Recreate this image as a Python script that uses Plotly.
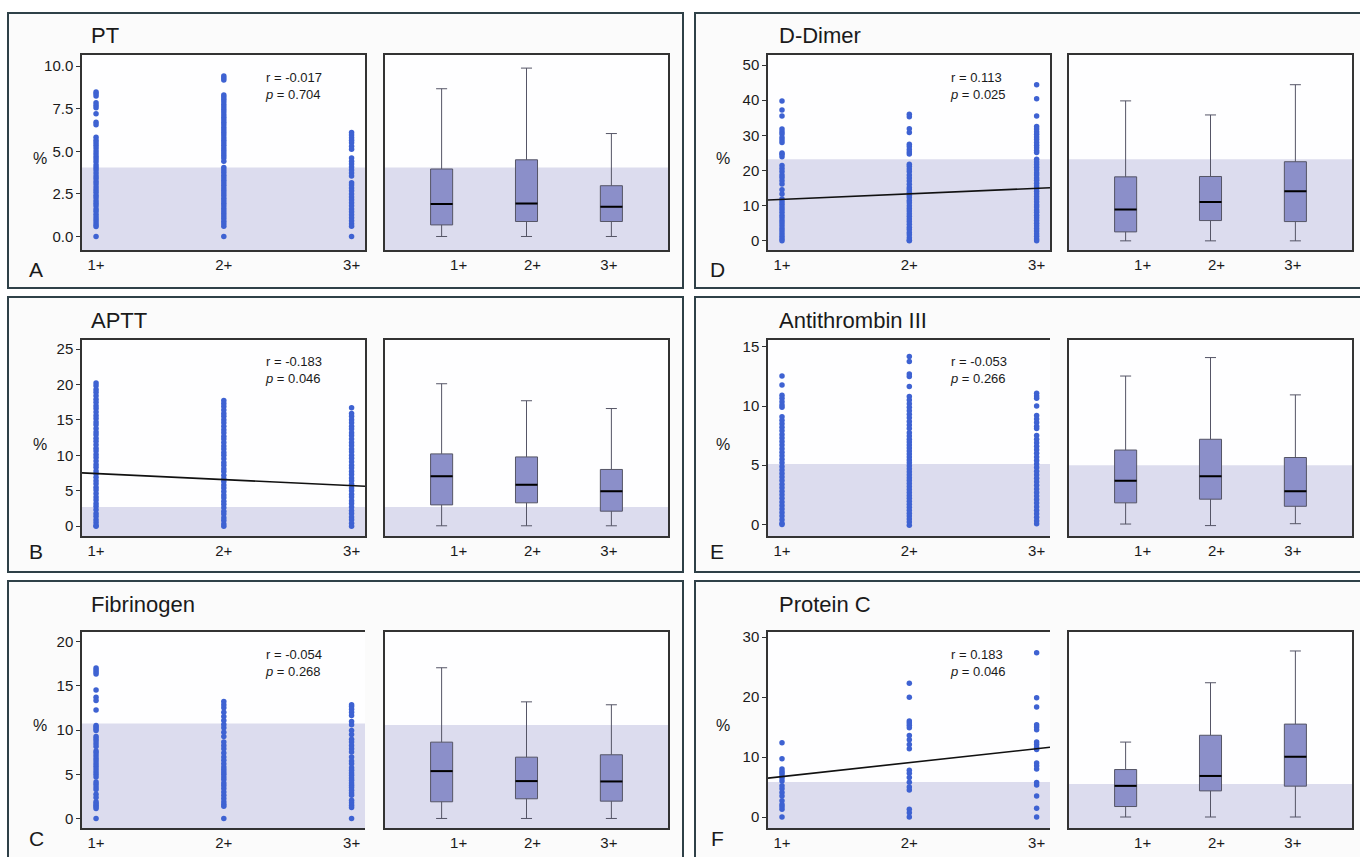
import plotly.graph_objects as go

W, H = 1360, 857
FONT = "Liberation Sans, Arial, sans-serif"

# ---------------- data ----------------
categories = ["1+", "2+", "3+"]
panel_letters = ["A", "B", "C", "D", "E", "F"]
panel_titles = ["PT", "APTT", "Fibrinogen", "D-Dimer", "Antithrombin III", "Protein C"]
r_values = ["-0.017", "-0.183", "-0.054", "0.113", "-0.053", "0.183"]
p_values = ["0.704", "0.046", "0.268", "0.025", "0.266", "0.046"]

# individual values (%), per group 1+, 2+, 3+
pt_g1 = [8.48, 8.38, 8.25, 7.85, 7.7, 7.55, 7.2, 6.7, 6.55, 5.82, 5.65, 5.5, 5.35, 5.2, 5.02, 4.85, 4.7, 4.55,
         4.38, 4.2, 4.05, 3.9, 3.72, 3.55, 3.4, 3.22, 3.08, 2.9, 2.75, 2.6, 2.42, 2.28, 2.1, 1.95, 1.8, 1.62,
         1.48, 1.3, 1.15, 1.0, 0.85, 0.7, 0.58, 0.0]
pt_g2 = [9.42, 9.3, 9.18, 8.3, 8.18, 8.05, 7.9, 7.75, 7.6, 7.45, 7.3, 7.15, 7.0, 6.85, 6.7, 6.55, 6.4, 6.25,
         6.1, 5.95, 5.8, 5.65, 5.5, 5.35, 5.2, 5.05, 4.9, 4.75, 4.6, 4.42, 4.05, 3.9, 3.75, 3.6, 3.45, 3.3,
         3.15, 3.0, 2.85, 2.7, 2.55, 2.4, 2.25, 2.1, 1.95, 1.8, 1.65, 1.5, 1.35, 1.2, 1.05, 0.9, 0.75, 0.6, 0.0]
pt_g3 = [6.1, 5.95, 5.8, 5.65, 5.5, 5.3, 5.12, 4.6, 4.42, 4.25, 4.08, 3.9, 3.72, 3.55, 3.15, 3.02, 2.85,
         2.68, 2.5, 2.32, 2.15, 1.98, 1.8, 1.62, 1.45, 1.28, 1.1, 0.92, 0.75, 0.6, 0.0]

aptt_g1 = [20.2, 19.8, 19.3, 18.9, 18.4, 17.9, 17.5, 17.0, 16.6, 16.1, 15.6, 15.2, 14.7, 14.3, 13.8, 13.3,
           12.9, 12.4, 12.0, 11.5, 11.0, 10.6, 10.1, 9.7, 9.2, 8.7, 8.3, 7.8, 7.4, 6.9, 6.4, 6.0, 5.5, 5.1,
           4.6, 4.1, 3.7, 3.2, 2.8, 2.3, 1.8, 1.4, 0.9, 0.5, 0.1, 0.0]
aptt_g2 = [17.75, 17.3, 16.9, 16.4, 15.9, 15.5, 15.0, 14.6, 14.1, 13.6, 13.2, 12.7, 12.3, 11.8, 11.3, 10.9,
           10.4, 10.0, 9.5, 9.0, 8.6, 8.1, 7.7, 7.2, 6.7, 6.3, 5.8, 5.4, 4.9, 4.4, 4.0, 3.5, 3.1, 2.6, 2.1,
           1.7, 1.2, 0.8, 0.3, 0.0]
aptt_g3 = [16.7, 15.9, 15.5, 15.0, 14.6, 14.1, 13.7, 13.2, 12.8, 12.3, 11.8, 11.4, 10.9, 10.5, 10.0, 9.6,
           9.1, 8.6, 8.2, 7.7, 7.3, 6.8, 6.4, 5.9, 5.4, 5.0, 4.5, 4.1, 3.6, 3.2, 2.7, 2.2, 1.8, 1.3, 0.9,
           0.4, 0.0]

fib_g1 = [17.03, 16.8, 16.58, 16.35, 14.55, 13.72, 13.35, 12.29, 10.53, 10.34, 10.15, 9.96, 9.29, 9.02, 8.76,
          8.46, 8.16, 7.63, 7.41, 7.11, 6.8, 6.5, 6.2, 5.9, 5.6, 5.3, 5.0, 4.7, 4.14, 3.87, 3.57, 3.27, 2.74,
          2.37, 1.88, 1.69, 1.5, 1.32, 1.13, 0.0]
fib_g2 = [13.23, 12.86, 12.52, 12.03, 11.54, 11.09, 10.64, 10.26, 9.77, 9.29, 8.65, 8.27, 7.89, 7.41, 6.95,
          6.58, 6.2, 5.83, 5.53, 5.26, 5.0, 4.7, 4.4, 4.02, 3.72, 3.38, 3.01, 2.63, 2.26, 1.88, 1.62, 1.39, 0.0]
fib_g3 = [12.86, 12.67, 12.37, 12.03, 11.65, 10.98, 10.6, 9.96, 9.51, 8.98, 8.65, 8.27, 7.89, 7.52, 6.95, 6.5,
          6.2, 5.75, 5.45, 5.15, 4.89, 4.59, 4.32, 4.02, 3.76, 3.5, 3.2, 2.89, 2.63, 2.07, 1.77, 1.5, 1.24, 0.0]

dd_g1 = [39.8, 37.2, 35.5, 31.8, 31.0, 30.4, 29.4, 28.7, 28.0, 25.0, 24.6, 23.9, 21.4, 20.6, 19.7, 18.7, 18.0,
         17.1, 16.2, 14.5, 13.3, 11.9, 11.1, 10.4, 9.6, 8.9, 8.1, 7.3, 6.6, 5.8, 5.1, 4.3, 3.5, 2.8, 2.0,
         1.3, 0.6, 0.0]
dd_g2 = [36.0, 35.3, 31.9, 30.8, 27.5, 26.8, 26.0, 25.3, 24.7, 21.8, 21.2, 20.4, 19.7, 18.7, 17.9, 17.0, 16.1,
         15.2, 14.6, 13.8, 13.0, 12.3, 11.5, 10.8, 10.0, 9.2, 8.5, 7.7, 7.0, 6.2, 5.5, 4.7, 3.9, 3.2, 2.4,
         1.7, 0.9, 0.2, 0.0]
dd_g3 = [44.4, 40.4, 35.5, 32.5, 31.8, 31.0, 30.3, 29.5, 28.8, 28.0, 27.2, 26.5, 25.7, 25.1, 23.2, 22.4, 21.7,
         20.9, 20.2, 19.4, 18.7, 17.9, 17.2, 16.4, 15.6, 14.9, 14.1, 13.4, 12.6, 11.9, 11.1, 10.3, 9.6, 8.8,
         8.1, 7.3, 6.6, 5.8, 5.0, 4.3, 3.5, 2.8, 2.0, 1.3, 0.5, 0.0]

at_g1 = [12.54, 11.78, 10.9, 10.65, 10.37, 10.08, 9.89, 9.1, 8.8, 8.5, 8.2, 7.9, 7.6, 7.3, 7.0, 6.7, 6.4, 6.1,
         5.8, 5.5, 5.2, 4.9, 4.6, 4.3, 4.0, 3.7, 3.4, 3.1, 2.8, 2.5, 2.2, 1.9, 1.6, 1.3, 1.0, 0.7, 0.4, 0.1, 0.0]
at_g2 = [14.18, 13.76, 12.7, 12.5, 11.64, 10.8, 10.5, 10.2, 9.9, 9.6, 9.3, 9.0, 8.7, 8.4, 8.1, 7.75, 7.46,
         7.2, 6.95, 6.7, 6.45, 6.2, 5.95, 5.7, 5.45, 5.2, 4.95, 4.7, 4.45, 4.2, 3.95, 3.7, 3.45, 3.2, 2.95,
         2.7, 2.45, 2.2, 1.95, 1.7, 1.45, 1.2, 0.95, 0.7, 0.45, 0.2, -0.08]
at_g3 = [11.07, 10.85, 10.65, 10.0, 9.2, 8.9, 8.6, 8.3, 8.1, 7.5, 7.2, 6.9, 6.6, 6.3, 6.0, 5.7, 5.4, 5.1, 4.8,
         4.5, 4.2, 3.9, 3.6, 3.3, 3.0, 2.7, 2.4, 2.1, 1.8, 1.5, 1.2, 0.9, 0.6, 0.3, 0.05]

pc_g1 = [12.4, 9.7, 8.0, 7.6, 7.3, 6.9, 6.5, 6.0, 5.2, 4.7, 4.1, 3.5, 2.7, 2.1, 1.7, 1.3, 0.0]
pc_g2 = [22.3, 20.0, 16.0, 15.7, 15.3, 14.9, 13.6, 12.9, 12.1, 11.4, 7.8, 7.3, 6.6, 5.8, 5.0, 4.5, 1.3, 0.7, 0.0]
pc_g3 = [27.4, 19.9, 18.35, 15.4, 15.0, 14.55, 12.5, 12.1, 11.6, 11.25, 9.0, 8.55, 8.0, 5.75, 5.35, 3.5, 1.45, 0.0]

points = [
    [pt_g1, pt_g2, pt_g3],
    [aptt_g1, aptt_g2, aptt_g3],
    [fib_g1, fib_g2, fib_g3],
    [dd_g1, dd_g2, dd_g3],
    [at_g1, at_g2, at_g3],
    [pc_g1, pc_g2, pc_g3],
]

# box statistics per group (1+, 2+, 3+)
box_upper = [[8.67, 9.88, 6.04], [20.1, 17.7, 16.6], [17.06, 13.2, 12.87],
             [39.8, 35.8, 44.4], [12.53, 14.09, 10.94], [12.5, 22.4, 27.7]]
box_q3 = [[3.96, 4.5, 2.98], [10.2, 9.77, 8.0], [8.64, 6.94, 7.21],
          [18.2, 18.3, 22.5], [6.28, 7.19, 5.65], [7.92, 13.64, 15.5]]
box_median = [[1.91, 1.93, 1.75], [7.05, 5.83, 4.93], [5.36, 4.23, 4.19],
              [8.9, 11.06, 14.08], [3.69, 4.06, 2.81], [5.2, 6.85, 10.07]]
box_q1 = [[0.68, 0.88, 0.88], [3.0, 3.29, 2.11], [1.89, 2.23, 1.96],
          [2.55, 5.77, 5.48], [1.82, 2.13, 1.53], [1.75, 4.36, 5.15]]
box_lower = [[0.0, 0.0, 0.0], [0.05, 0.05, 0.05], [0.0, 0.0, 0.0],
             [0.0, 0.0, 0.0], [0.03, -0.1, 0.06], [0.0, 0.0, 0.0]]

# reference (normal) upper limits shaded in each panel
normal_scatter = [4.05, 2.7, 10.76, 23.2, 5.11, 5.82]
normal_box = [4.05, 2.7, 10.57, 23.2, 5.0, 5.5]

# regression line fitted values at 1+ and 3+ (None = no line drawn)
trend_fit = [None, [7.42, 5.72], None, [11.8, 14.93], None, [6.75, 11.4]]

# y axis ticks
y_tickvals = [[0, 2.5, 5, 7.5, 10], [0, 5, 10, 15, 20, 25], [0, 5, 10, 15, 20],
              [0, 10, 20, 30, 40, 50], [0, 5, 10, 15], [0, 10, 20, 30]]
y_ticktext = [["0.0", "2.5", "5.0", "7.5", "10.0"], ["0", "5", "10", "15", "20", "25"],
              ["0", "5", "10", "15", "20"], ["0", "10", "20", "30", "40", "50"],
              ["0", "5", "10", "15"], ["0", "10", "20", "30"]]
y_ranges = [[-0.8, 10.66], [-1.41, 26.3], [-1.09, 21.13], [-2.64, 52.9], [-0.99, 15.59], [-1.85, 30.9]]

# ---------------- layout geometry (pixels) ----------------
col_geom = [
    dict(sc=(82, 365), bx=(385, 668), frame_x=(8, 683), letter_x=36, pct_x=40, title_x=89, rp_x=263),
    dict(sc=(768, 1050), bx=(1069, 1352), frame_x=(695, 1364), letter_x=717, pct_x=723, title_x=777, rp_x=948),
]
row_geom = [
    dict(top=52, bot=248, frame_y=(10, 286), title_y=33, letter_y=267, pct_y=156, rp_y=83),
    dict(top=338, bot=535, frame_y=(295, 571), title_y=319, letter_y=550, pct_y=443, rp_y=368),
    dict(top=631, bot=828, frame_y=(580, 860), title_y=604, letter_y=838, pct_y=725, rp_y=662),
]
mirror_y = [True, True, False, True, False, False]

SC_XRANGE = [-0.11, 2.105]
BX_XRANGE = [-0.667, 2.667]
BX_TICKS = [0.2, 1.07, 1.97]
BOX_W = 0.26

POINT_COLOR = "#3e62d2"
SHADE = "#dcdcee"
BOX_FILL = "#8b8fc9"
BOX_LINE = "#555566"
AXIS_COLOR = "#333333"
FRAME_COLOR = "#2f4148"
TEXT = "#1a1a1a"


def xp(px):
    return px / W


def yp(py):
    return 1 - py / H


def ax(n, kind):
    return (kind if n == 1 else f"{kind}{n}")


fig = go.Figure()
shapes_frames, shapes_bg, shapes_shade = [], [], []
annotations = []
layout_axes = {}

for i in range(6):
    cg = col_geom[0 if i < 3 else 1]
    rg = row_geom[i % 3]
    sn, bn = 2 * i + 1, 2 * i + 2
    sx, sy, bxn, byn = ax(sn, "x"), ax(sn, "y"), ax(bn, "x"), ax(bn, "y")
    ydom = [yp(rg["bot"]), yp(rg["top"])]

    # panel frame
    shapes_frames.append(dict(type="rect", xref="paper", yref="paper",
                              x0=xp(cg["frame_x"][0]), x1=xp(cg["frame_x"][1]),
                              y0=yp(rg["frame_y"][1]), y1=yp(rg["frame_y"][0]),
                              line=dict(color=FRAME_COLOR, width=2), fillcolor="#fbfbfb", layer="below"))
    for a_x, a_y, thr in ((sx, sy, normal_scatter[i]), (bxn, byn, normal_box[i])):
        shapes_bg.append(dict(type="rect", xref=f"{a_x} domain", yref=f"{a_y} domain",
                              x0=0, x1=1, y0=0, y1=1, line=dict(width=0), fillcolor="#fefeff", layer="below"))
        shapes_shade.append(dict(type="rect", xref=f"{a_x} domain", yref=a_y,
                                 x0=0, x1=1, y0=y_ranges[i][0], y1=thr,
                                 line=dict(width=0), fillcolor=SHADE, layer="below"))

    # scatter strips
    xs, ys = [], []
    for k, grp in enumerate(points[i]):
        xs += [k] * len(grp)
        ys += grp
    fig.add_trace(go.Scatter(x=xs, y=ys, mode="markers", xaxis=sx, yaxis=sy,
                             marker=dict(size=5.5, color=POINT_COLOR), hoverinfo="skip", cliponaxis=False))

    # regression line
    if trend_fit[i] is not None:
        v1, v3 = trend_fit[i]
        slope = (v3 - v1) / 2.0
        fig.add_trace(go.Scatter(x=SC_XRANGE, y=[v1 + slope * SC_XRANGE[0], v1 + slope * SC_XRANGE[1]],
                                 mode="lines", xaxis=sx, yaxis=sy,
                                 line=dict(color="#111111", width=1.6), hoverinfo="skip"))

    # box plot
    fig.add_trace(go.Box(x=[0, 1, 2], q1=box_q1[i], median=box_median[i], q3=box_q3[i],
                         lowerfence=box_lower[i], upperfence=box_upper[i],
                         xaxis=bxn, yaxis=byn, width=BOX_W, whiskerwidth=0.5,
                         fillcolor=BOX_FILL, line=dict(color=BOX_LINE, width=1),
                         boxpoints=False, hoverinfo="skip"))
    mx, my = [], []
    for k, m in enumerate(box_median[i]):
        mx += [k - BOX_W / 2, k + BOX_W / 2, None]
        my += [m, m, None]
    fig.add_trace(go.Scatter(x=mx, y=my, mode="lines", xaxis=bxn, yaxis=byn,
                             line=dict(color="#000000", width=2), hoverinfo="skip"))

    tickfont = dict(family=FONT, size=15, color=TEXT)
    layout_axes[ax(sn, "xaxis")] = dict(
        domain=[xp(cg["sc"][0]), xp(cg["sc"][1])], anchor=sy, range=SC_XRANGE,
        tickvals=[0, 1, 2], ticktext=categories, ticks="",
        showline=True, linecolor=AXIS_COLOR, linewidth=1.5, mirror=True,
        showgrid=False, zeroline=False, tickfont=tickfont, fixedrange=True)
    layout_axes[ax(sn, "yaxis")] = dict(
        domain=ydom, anchor=sx, range=y_ranges[i], tickvals=y_tickvals[i], ticktext=y_ticktext[i],
        ticks="outside", ticklen=4, tickwidth=1, tickcolor=AXIS_COLOR,
        showline=True, linecolor=AXIS_COLOR, linewidth=1.5, mirror=mirror_y[i],
        showgrid=False, zeroline=False, tickfont=tickfont, fixedrange=True)
    layout_axes[ax(bn, "xaxis")] = dict(
        domain=[xp(cg["bx"][0]), xp(cg["bx"][1])], anchor=byn, range=BX_XRANGE,
        tickvals=BX_TICKS, ticktext=categories, ticks="",
        showline=True, linecolor=AXIS_COLOR, linewidth=1.5, mirror=True,
        showgrid=False, zeroline=False, tickfont=tickfont, fixedrange=True)
    layout_axes[ax(bn, "yaxis")] = dict(
        domain=ydom, anchor=bxn, range=y_ranges[i], showticklabels=False, ticks="",
        showline=True, linecolor=AXIS_COLOR, linewidth=1.5, mirror=True,
        showgrid=False, zeroline=False, fixedrange=True)

    # texts
    annotations.append(dict(text=panel_titles[i], xref="paper", yref="paper",
                            x=xp(cg["title_x"]), y=yp(rg["title_y"]), xanchor="left", yanchor="middle",
                            showarrow=False, font=dict(family=FONT, size=22, color=TEXT)))
    annotations.append(dict(text=panel_letters[i], xref="paper", yref="paper",
                            x=xp(cg["letter_x"]), y=yp(rg["letter_y"]), xanchor="center", yanchor="middle",
                            showarrow=False, font=dict(family=FONT, size=21, color=TEXT)))
    annotations.append(dict(text="%", xref="paper", yref="paper",
                            x=xp(cg["pct_x"]), y=yp(rg["pct_y"]), xanchor="center", yanchor="middle",
                            showarrow=False, font=dict(family=FONT, size=16, color=TEXT)))
    annotations.append(dict(text=f"r = {r_values[i]}<br><i>p</i> = {p_values[i]}", xref="paper", yref="paper",
                            x=xp(cg["rp_x"]), y=yp(rg["rp_y"]), xanchor="left", yanchor="middle", align="left",
                            showarrow=False, font=dict(family=FONT, size=13, color=TEXT)))

fig.update_layout(
    width=W, height=H, margin=dict(l=0, r=0, t=0, b=0),
    paper_bgcolor="#ffffff", plot_bgcolor="rgba(0,0,0,0)",
    showlegend=False, font=dict(family=FONT, color=TEXT),
    shapes=shapes_frames + shapes_bg + shapes_shade,
    annotations=annotations,
    **layout_axes,
)

fig.write_html("out.html", config={"displayModeBar": False},
               post_script="document.body.style.margin='0';document.body.style.overflow='hidden';")
